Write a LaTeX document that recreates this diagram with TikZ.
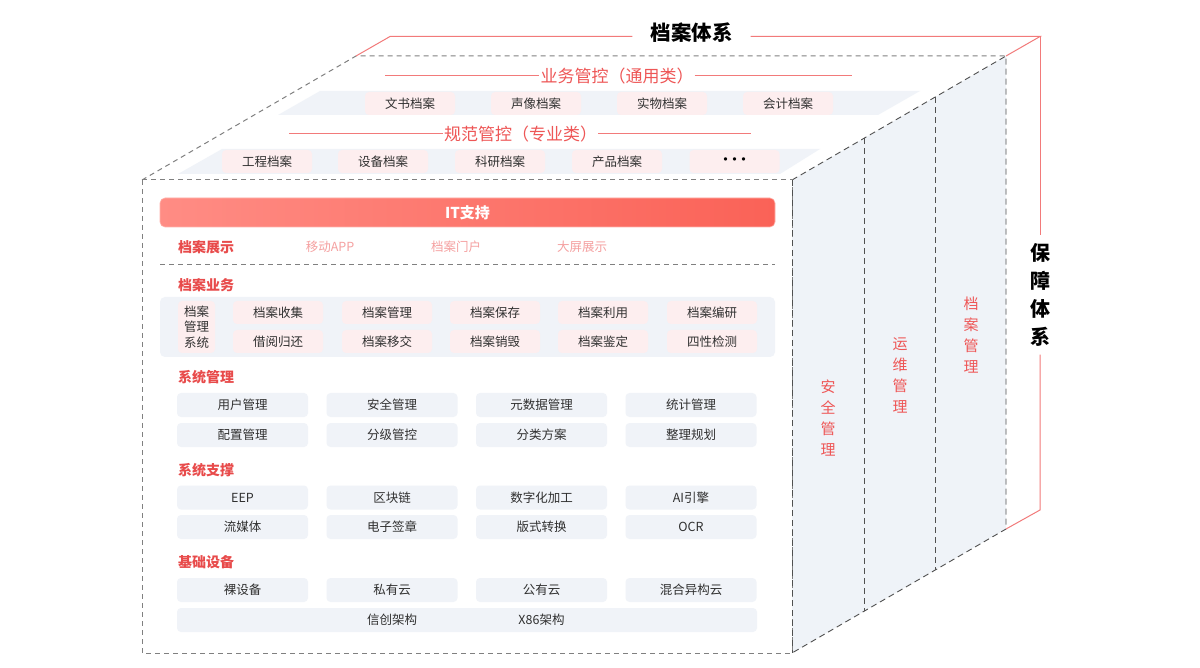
\documentclass[tikz,border=0pt]{standalone}
\usepackage{fontspec}
\setmainfont{Noto Sans CJK SC}
\usetikzlibrary{calc}
\definecolor{redT}{HTML}{E84B4B}
\definecolor{redH}{HTML}{EE5656}
\definecolor{redL}{HTML}{F27A7A}
\definecolor{redS}{HTML}{F5A0A0}
\definecolor{pinkF}{HTML}{FDEEEF}
\definecolor{grayF}{HTML}{F0F3F8}
\definecolor{sideF}{HTML}{EFF3F8}
\definecolor{dashG}{HTML}{808080}
\definecolor{dashS}{HTML}{505050}
\definecolor{txt}{HTML}{303030}
\definecolor{itL}{HTML}{FF8C84}
\definecolor{itR}{HTML}{FA6257}
\definecolor{itB}{HTML}{FFB2AB}
\begin{document}
\begin{tikzpicture}[x=1pt,y=-1pt,
  lbl/.style={font=\fontsize{12.5}{15}\selectfont, text=txt, inner sep=0pt},
  pbox/.style={lbl, fill=pinkF, rounded corners=4pt},
  gbox/.style={lbl, fill=grayF, rounded corners=4pt},
  sec/.style={font=\bfseries\fontsize{14}{16}\selectfont, text=redT, anchor=west, inner sep=0pt},
  soft/.style={font=\fontsize{12.5}{15}\selectfont, text=redS, inner sep=0pt},
  hd/.style={font=\fontsize{17}{20}\selectfont, text=redH, inner sep=1pt},
  side/.style={font=\fontsize{15}{21}\selectfont, text=redH, align=center, inner sep=0pt},
  rl/.style={draw=redL, line width=1pt},
  dg/.style={draw=dashG, line width=1pt, dash pattern=on 5pt off 4pt},
  ds/.style={draw=dashS, line width=0.9pt, dash pattern=on 6pt off 4pt}
]
\useasboundingbox[fill=white] (0,0) rectangle (1200,668);

% cube corners
\coordinate (ftl) at (142,180);
\coordinate (ftr) at (792,180);
\coordinate (fbr) at (792,653);
\coordinate (fbl) at (142,653);
\coordinate (btl) at (356,56);
\coordinate (btr) at (1006,56);
\coordinate (bbr) at (1006,529);

% side face
\fill[sideF] (ftr) -- (btr) -- (bbr) -- (fbr) -- cycle;
\draw[ds] (ftr) -- (btr) -- (bbr) -- (fbr);
\draw[ds] ($(ftr)!.3364!(btr)$) coordinate (s1t) -- ($(fbr)!.3364!(bbr)$) coordinate (s1b);
\draw[ds] ($(ftr)!.668!(btr)$) coordinate (s2t) -- ($(fbr)!.668!(bbr)$) coordinate (s2b);

% top face
\draw[dg] (ftl) -- (btl) -- (btr);

% front face
\draw[dg, fill=white] (ftl) rectangle (fbr);
\draw[ds] (ftr) -- (fbr);

% red frame and titles
\node[font=\bfseries\fontsize{20.5}{24}\selectfont, text=black, inner xsep=18pt, inner ysep=2pt] (ttl) at (691.5,33) {档案体系};
\coordinate (r2) at (390,36.5);
\coordinate (r5) at (1040,36.5);
\coordinate (r8) at (1040,510);
\node[font=\bfseries\fontsize{20}{28}\selectfont, text=black, align=center, inner xsep=0pt, inner ysep=8pt] (bz) at (1040,295) {保\\障\\体\\系};
\draw[rl] (btl) -- (r2) -- (ttl.west |- r2);
\draw[rl] (ttl.east |- r2) -- (r5) -- (btr);
\draw[rl] (r5) -- (bz.north);
\draw[rl] (bz.south) -- (r8) -- (bbr);

% upper layer 1
\node[hd] (h1) at (617,76) {业务管控（通用类）};
\coordinate (h1l) at (385,76);
\coordinate (h1r) at (852,76);
\draw[rl] (h1l) -- (h1.west);
\draw[rl] (h1.east) -- (h1r);
\fill[grayF] (320,91) -- (920,91) -- (878,115) -- (278,115) -- cycle;
\foreach \x/\t [count=\i] in {410/文书档案, 536/声像档案, 662/实物档案, 788/会计档案}
  \node[pbox, minimum width=90pt, minimum height=23pt] (a\i) at (\x,103.5) {\t};

% upper layer 2
\node[hd] (h2) at (520.5,134) {规范管控（专业类）};
\coordinate (h2l) at (289,134);
\coordinate (h2r) at (751,134);
\draw[rl] (h2l) -- (h2.west);
\draw[rl] (h2.east) -- (h2r);
\fill[grayF] (222,149) -- (820,149) -- (780,174) -- (178,174) -- cycle;
\foreach \x/\t [count=\i] in {267/工程档案, 383/设备档案, 500/科研档案, 617/产品档案}
  \node[pbox, minimum width=90pt, minimum height=23pt] (b\i) at (\x,161.5) {\t};
\node[pbox, minimum width=90pt, minimum height=23pt, font=\fontsize{16}{18}\selectfont, text=black] (b5) at (734.5,161.5) {•\kern-7pt•\kern-7pt•};

% IT support
\node[minimum width=615pt, minimum height=29pt, rounded corners=5pt, left color=itL, right color=itR, draw=itB, line width=0.6pt, text=white, font=\bfseries\fontsize{15}{18}\selectfont] (it) at (467.5,212.5) {IT支持};

% display
\node[sec] (zs) at (178,247) {档案展示};
\node[soft] (zs1) at (330,247) {移动APP};
\node[soft] (zs2) at (456,247) {档案门户};
\node[soft] (zs3) at (582,247) {大屏展示};
\coordinate (sepl) at (160,265);
\coordinate (sepr) at (775,265);
\draw[dg] (sepl) -- (sepr);

% business
\node[sec] (yw) at (178,285) {档案业务};
\fill[grayF, rounded corners=5pt] (160,297) rectangle (775,357);
\node[pbox, minimum width=37pt, minimum height=52pt, align=center, font=\fontsize{12.5}{15.5}\selectfont] (gl) at (196.5,327) {档案\\管理\\系统};
\foreach \x/\t [count=\i] in {278/档案收集, 387/档案管理, 495/档案保存, 603/档案利用, 712/档案编研}
  \node[pbox, minimum width=90pt, minimum height=23pt] (c\i) at (\x,312.5) {\t};
\foreach \x/\t [count=\i] in {278/借阅归还, 387/档案移交, 495/档案销毁, 603/档案鉴定, 712/四性检测}
  \node[pbox, minimum width=90pt, minimum height=23pt] (d\i) at (\x,341.5) {\t};

% system management
\node[sec] (gl2) at (178,377) {系统管理};
\foreach \x/\t [count=\i] in {242.5/用户管理, 392/安全管理, 541.5/元数据管理, 691/统计管理}
  \node[gbox, minimum width=131pt, minimum height=24pt] (e\i) at (\x,405) {\t};
\foreach \x/\t [count=\i] in {242.5/配置管理, 392/分级管控, 541.5/分类方案, 691/整理规划}
  \node[gbox, minimum width=131pt, minimum height=24pt] (f\i) at (\x,435) {\t};

% system support
\node[sec] (zc) at (178,470) {系统支撑};
\foreach \x/\t [count=\i] in {242.5/EEP, 392/区块链, 541.5/数字化加工, 691/AI引擎}
  \node[gbox, minimum width=131pt, minimum height=24pt] (g\i) at (\x,497.5) {\t};
\foreach \x/\t [count=\i] in {242.5/流媒体, 392/电子签章, 541.5/版式转换, 691/OCR}
  \node[gbox, minimum width=131pt, minimum height=24pt] (k\i) at (\x,527) {\t};

% infrastructure
\node[sec] (jc) at (178,562) {基础设备};
\foreach \x/\t [count=\i] in {242.5/裸设备, 392/私有云, 541.5/公有云, 691/混合异构云}
  \node[gbox, minimum width=131pt, minimum height=24pt] (m\i) at (\x,590) {\t};
\node[gbox, minimum width=580pt, minimum height=24pt] (xc) at (467,620) {};
\node[lbl] (xc1) at (392,620) {信创架构};
\node[lbl] (xc2) at (541.5,620) {X86架构};

% side labels
\node[side] (sa) at (828,418) {安\\全\\管\\理};
\node[side] (yy) at (900,375.5) {运\\维\\管\\理};
\node[side] (da) at (971,335) {档\\案\\管\\理};
\end{tikzpicture}
\end{document}
